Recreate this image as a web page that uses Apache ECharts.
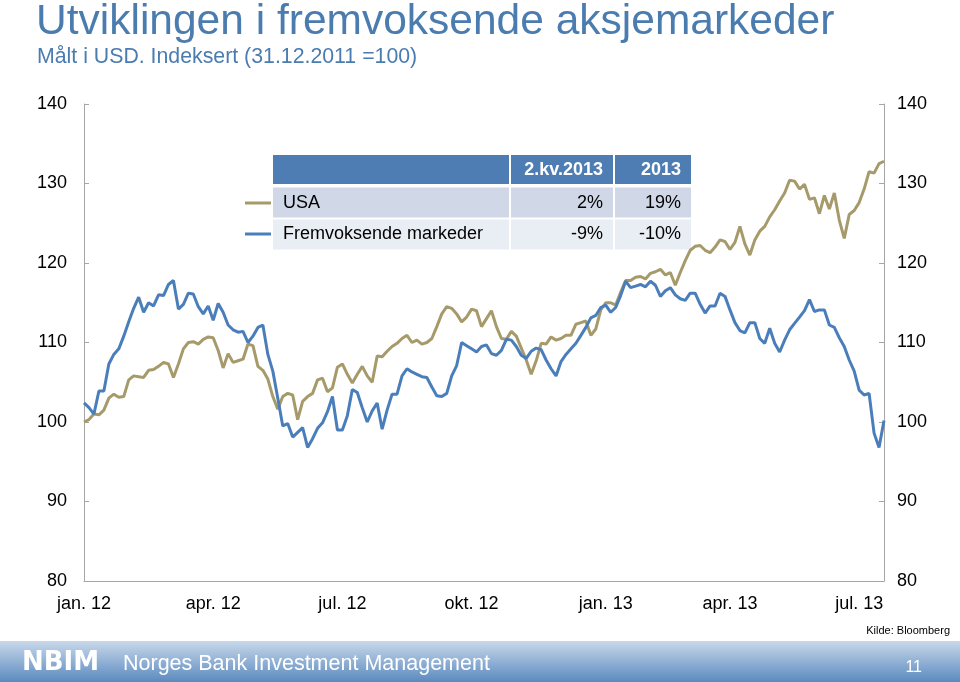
<!DOCTYPE html>
<html>
<head>
<meta charset="utf-8">
<script src="https://cdn.jsdelivr.net/npm/echarts@6/dist/echarts.min.js"></script>
<style>
html,body{margin:0;padding:0;background:#fff;}
#chart{width:960px;height:682px;}
</style>
</head>
<body>
<div id="chart"></div>
<script>
// ---- Data ----
const titleText = 'Utviklingen i fremvoksende aksjemarkeder';
const subtitleText = 'Målt i USD. Indeksert (31.12.2011 =100)';
const seriesNames = ['USA', 'Fremvoksende markeder'];
const tableHeader = ['2.kv.2013', '2013'];
const usaChanges = ['2%', '19%'];
const emChanges = ['-9%', '-10%'];
const sourceText = 'Kilde: Bloomberg';
const footerBrand = 'NBIM';
const footerName = 'Norges Bank Investment Management';
const pageNumber = '11';
const monthNames = ['jan.','feb.','mar.','apr.','mai','jun.','jul.','aug.','sep.','okt.','nov.','des.'];
const yMin = 80, yMax = 140, yStep = 10;

// two observations per week (Mon, Thu) from 2 Jan 2012 to 18 Jul 2013
const dates = [];
for (let i = 0; i < 162; i++) {
  const w = Math.floor(i / 2);
  const d = new Date(Date.UTC(2012, 0, 2 + w * 7 + (i % 2) * 3));
  dates.push(d.toISOString().slice(0, 10));
}

const usa = [
  100.0, 100.3, 101.0, 100.9, 101.5, 103.0, 103.5, 103.1, 103.2, 105.3,
  105.8, 105.7, 105.6, 106.5, 106.6, 107.0, 107.5, 107.3, 105.6, 107.3,
  109.2, 110.0, 110.1, 109.8, 110.4, 110.7, 110.6, 109.0, 106.8, 108.6,
  107.5, 107.7, 107.9, 109.8, 109.6, 107.0, 106.5, 105.4, 103.2, 101.6,
  103.2, 103.6, 103.4, 100.3, 102.6, 103.2, 103.6, 105.3, 105.5, 103.8,
  104.3, 106.9, 107.3, 106.0, 104.9, 106.0, 107.0, 105.8, 105.0, 108.3,
  108.2, 108.9, 109.5, 109.9, 110.5, 110.9, 110.0, 110.3, 109.8, 110.0,
  110.5, 112.0, 113.6, 114.5, 114.3, 113.6, 112.6, 113.2, 114.2, 114.0,
  112.0, 113.0, 114.0, 112.0, 110.5, 110.4, 111.4, 110.8, 109.3, 107.8,
  106.0, 107.7, 109.9, 109.8, 110.7, 110.3, 110.5, 110.9, 110.9, 112.3,
  112.5, 112.7, 110.9, 111.7, 114.1, 115.0, 115.0, 114.7, 116.3, 117.8,
  117.8, 118.2, 118.3, 118.0, 118.7, 118.9, 119.2, 118.5, 118.8, 117.2,
  118.8, 120.3, 121.6, 122.1, 122.2, 121.6, 121.3, 122.0, 122.9, 122.7,
  121.7, 122.6, 124.6, 122.4, 121.0, 122.9, 124.0, 124.6, 125.8, 126.7,
  127.8, 128.8, 130.4, 130.3, 129.3, 129.9, 128.0, 128.2, 126.2, 128.5,
  126.8, 128.8, 125.4, 123.1, 126.1, 126.6, 127.6, 129.3, 131.5, 131.3,
  132.5, 132.8
];

const em = [
  102.4, 101.8, 101.0, 103.9, 103.9, 107.3, 108.5, 109.2, 110.8, 112.6,
  114.3, 115.7, 113.8, 115.0, 114.6, 116.0, 115.9, 117.3, 117.8, 114.2,
  114.8, 116.2, 116.1, 114.5, 113.6, 114.6, 112.8, 114.9, 113.8, 112.2,
  111.6, 111.3, 111.4, 110.0, 110.8, 111.9, 112.2, 108.5, 106.4, 103.0,
  99.5, 99.8, 98.1, 98.7, 99.3, 96.8, 97.9, 99.2, 99.9, 101.3,
  103.2, 99.0, 99.0, 100.8, 104.1, 103.7, 101.8, 100.0, 101.4, 102.4,
  99.1, 101.5, 103.5, 103.5, 105.8, 106.7, 106.3, 106.0, 105.7, 105.6,
  104.4, 103.3, 103.2, 103.6, 105.8, 107.1, 110.0, 109.6, 109.2, 108.8,
  109.5, 109.7, 108.6, 108.4, 109.0, 110.4, 110.3, 109.5, 108.4, 108.0,
  108.9, 109.3, 109.1, 107.8, 106.7, 105.8, 107.6, 108.5, 109.2, 109.9,
  110.9, 111.9, 113.1, 113.4, 114.4, 114.7, 113.8, 114.4, 115.9, 117.7,
  116.9, 117.1, 117.3, 117.0, 117.7, 117.2, 115.8, 116.5, 116.9, 116.0,
  115.5, 115.3, 116.2, 116.2, 114.8, 113.7, 114.6, 114.6, 116.2, 115.8,
  114.1, 112.5, 111.5, 111.2, 112.5, 112.5, 110.5, 109.9, 111.8, 109.9,
  108.8, 110.3, 111.6, 112.4, 113.2, 114.0, 115.4, 113.9, 114.1, 114.1,
  112.2, 111.9, 110.6, 109.5, 107.8, 106.4, 104.0, 103.4, 103.6, 98.6,
  96.8, 100.2
];

// ---- Styles ----
const FONT = '"Liberation Sans", Arial, sans-serif';
const TITLE_BLUE = '#4A7CB0';
const USA_COLOR = '#A69A6B';
const EM_COLOR = '#4A7EBB';
const AXIS_GREY = '#A6A6A6';

const chart = echarts.init(document.getElementById('chart'), null, {renderer: 'canvas'});

function isQuarterStart(idx, val) {
  const m = +val.slice(5, 7) - 1;
  if (m % 3 !== 0) return false;
  if (idx === 0) return true;
  return dates[idx - 1].slice(5, 7) !== val.slice(5, 7);
}

const yAxisBase = {
  type: 'value', min: yMin, max: yMax, interval: yStep,
  axisLine: {show: true, lineStyle: {color: AXIS_GREY, width: 1}},
  axisTick: {show: true, inside: true, length: 5, lineStyle: {color: AXIS_GREY}},
  splitLine: {show: false},
  axisLabel: {color: '#000', fontSize: 18, fontFamily: FONT}
};

// table layout
const tX = [273, 511, 615], tW = [236, 102, 76];
const rowY = [155, 187.5, 219.5], rowH = [29, 30, 30];
const rowFill = ['#4E7DB3', '#D0D8E8', '#E9EDF4'];
const graphics = [];
for (let r = 0; r < 3; r++) {
  for (let c = 0; c < 3; c++) {
    graphics.push({type: 'rect', shape: {x: tX[c], y: rowY[r], width: tW[c], height: rowH[r]},
      style: {fill: rowFill[r]}, silent: true});
  }
}
function txt(text, x, y, opts) {
  return Object.assign({type: 'text', x: x, y: y, silent: true,
    style: Object.assign({text: text, fill: '#000', font: '18px ' + FONT, align: 'left', verticalAlign: 'middle'}, opts || {})});
}
graphics.push(txt(tableHeader[0], 603, 170, {fill: '#fff', font: 'bold 18px ' + FONT, align: 'right'}));
graphics.push(txt(tableHeader[1], 681, 170, {fill: '#fff', font: 'bold 18px ' + FONT, align: 'right'}));
graphics.push(txt(seriesNames[0], 283, 203));
graphics.push(txt(usaChanges[0], 603, 203, {align: 'right'}));
graphics.push(txt(usaChanges[1], 681, 203, {align: 'right'}));
graphics.push(txt(seriesNames[1], 283, 234.5));
graphics.push(txt(emChanges[0], 603, 234.5, {align: 'right'}));
graphics.push(txt(emChanges[1], 681, 234.5, {align: 'right'}));
graphics.push({type: 'line', shape: {x1: 245, y1: 203, x2: 271, y2: 203}, style: {stroke: USA_COLOR, lineWidth: 3}, silent: true});
graphics.push({type: 'line', shape: {x1: 245, y1: 234, x2: 271, y2: 234}, style: {stroke: EM_COLOR, lineWidth: 3}, silent: true});
// titles
graphics.push(txt(titleText, 36, 22.5, {fill: TITLE_BLUE, font: '42.5px ' + FONT}));
graphics.push(txt(subtitleText, 37, 57, {fill: TITLE_BLUE, font: '21.3px ' + FONT}));
// source
graphics.push(txt(sourceText, 950, 631, {font: '11px ' + FONT, align: 'right'}));
// footer band
graphics.push({type: 'rect', shape: {x: 0, y: 641, width: 960, height: 41}, silent: true,
  style: {fill: new echarts.graphic.LinearGradient(0, 0, 0, 1, [
    {offset: 0, color: '#C8D8EA'}, {offset: 1, color: '#5B8ABF'}])}});
graphics.push(txt(footerBrand, 22, 663, {fill: '#fff', font: 'bold 26px "DejaVu Sans", ' + FONT}));
graphics.push(txt(footerName, 123, 664, {fill: '#fff', font: '21.5px ' + FONT}));
graphics.push(txt(pageNumber, 922, 668, {fill: '#fff', font: '16px ' + FONT, align: 'right'}));

const option = {
  animation: false,
  backgroundColor: '#fff',
  grid: {left: 84, right: 76, top: 104, bottom: 101, containLabel: false},
  xAxis: {
    type: 'category', data: dates, boundaryGap: false,
    axisLine: {show: true, lineStyle: {color: AXIS_GREY, width: 1}},
    axisTick: {show: false},
    axisLabel: {
      interval: isQuarterStart,
      formatter: function (val) {
        const m = +val.slice(5, 7) - 1;
        return monthNames[m] + ' ' + val.slice(2, 4);
      },
      color: '#000', fontSize: 18, fontFamily: FONT, margin: 14
    },
    splitLine: {show: false}
  },
  yAxis: [
    Object.assign({}, yAxisBase, {position: 'left', axisLabel: Object.assign({}, yAxisBase.axisLabel, {margin: 17})}),
    Object.assign({}, yAxisBase, {position: 'right', axisLabel: Object.assign({}, yAxisBase.axisLabel, {margin: 13})})
  ],
  series: [
    {name: seriesNames[0], type: 'line', data: usa, showSymbol: false, symbol: 'none',
      lineStyle: {color: USA_COLOR, width: 3}, itemStyle: {color: USA_COLOR}, z: 2},
    {name: seriesNames[1], type: 'line', data: em, showSymbol: false, symbol: 'none',
      lineStyle: {color: EM_COLOR, width: 3}, itemStyle: {color: EM_COLOR}, z: 3}
  ],
  graphic: graphics
};
chart.setOption(option);
</script>
</body>
</html>
